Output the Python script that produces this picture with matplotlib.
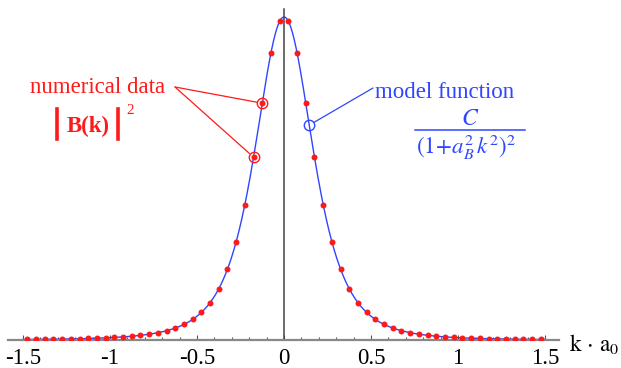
import numpy as np
import matplotlib
matplotlib.use('Agg')
import matplotlib.pyplot as plt
from matplotlib.lines import Line2D

# numerical data |B(k)|^2
k_data = [-1.475, -1.425, -1.375, -1.325, -1.275, -1.225, -1.175, -1.125, -1.075, -1.025,
          -0.975, -0.925, -0.875, -0.825, -0.775, -0.725, -0.675, -0.625, -0.575, -0.525,
          -0.475, -0.425, -0.375, -0.325, -0.275, -0.225, -0.175, -0.125, -0.075, -0.025,
          0.025, 0.075, 0.125, 0.175, 0.225, 0.275, 0.325, 0.375, 0.425, 0.475,
          0.525, 0.575, 0.625, 0.675, 0.725, 0.775, 0.825, 0.875, 0.925, 0.975,
          1.025, 1.075, 1.125, 1.175, 1.225, 1.275, 1.325, 1.375, 1.425, 1.475]
b2_data = [0.0017, 0.0019, 0.0022, 0.0025, 0.0029, 0.0034, 0.0040, 0.0047, 0.0056, 0.0066,
           0.0079, 0.0096, 0.0117, 0.0145, 0.0180, 0.0226, 0.0287, 0.0370, 0.0482, 0.0637,
           0.0852, 0.1156, 0.1585, 0.2193, 0.3042, 0.4194, 0.5660, 0.7331, 0.8892, 0.9867,
           0.9867, 0.8892, 0.7331, 0.5660, 0.4194, 0.3042, 0.2193, 0.1585, 0.1156, 0.0852,
           0.0637, 0.0482, 0.0370, 0.0287, 0.0226, 0.0180, 0.0145, 0.0117, 0.0096, 0.0079,
           0.0066, 0.0056, 0.0047, 0.0040, 0.0034, 0.0029, 0.0025, 0.0022, 0.0019, 0.0017]

# model function C / (1 + a_B^2 k^2)^2
C = 1.0
aB2 = 10.75

tick_pos = [-1.5, -1, -0.5, 0, 0.5, 1, 1.5]
tick_labels = ['-1.5', '-1', '-0.5', '0', '0.5', '1', '1.5']

# points picked out by the labels
k_marked = [-0.175, -0.125]
b2_marked = [0.5660, 0.7331]
k_model_mark = 0.145

red = '#ff1a1a'
blue = '#2f45ff'
fs = 16.5

plt.rcParams['font.family'] = ['Liberation Serif', 'DejaVu Serif']
plt.rcParams['mathtext.fontset'] = 'stix'
plt.rcParams['axes.unicode_minus'] = False

W, H = 621, 368
fig = plt.figure(figsize=(W / 100, H / 100), dpi=100)
ax = fig.add_axes([8 / W, 28 / H, 551 / W, 331 / H])


def px(x, y):
    # image pixel (from top left) -> figure fraction
    return x / W, 1 - y / H


kk = np.linspace(-1.5, 1.5, 801)
ax.plot(kk, C / (1 + aB2 * kk ** 2) ** 2, color=blue, lw=1.0, zorder=2)
ax.plot(k_data, b2_data, 'o', color=red, ms=4.3, mec='none', zorder=3)

ax.set_xlim(-1.586, 1.580)
ax.set_ylim(0, 1.0248)

for s in ['top', 'right']:
    ax.spines[s].set_visible(False)
ax.spines['left'].set_position(('data', 0))
ax.spines['left'].set_color('#444444')
ax.spines['left'].set_linewidth(1.1)
ax.spines['bottom'].set_color('#888888')
ax.spines['bottom'].set_linewidth(1.6)
ax.set_yticks([])
ax.set_xticks(tick_pos)
ax.set_xticklabels(tick_labels)
ax.set_xticks(np.arange(-1.5, 1.51, 0.1), minor=True)
ax.tick_params(axis='x', which='major', direction='in', length=3.5, width=0.8,
               color='#555555', labelsize=fs, pad=6)
ax.tick_params(axis='x', which='minor', direction='in', length=2, width=0.8,
               color='#555555')
ax.patch.set_visible(False)

# axis label
fig.text(*px(569, 351), r'$\mathrm{k}\,\cdot\,\mathrm{a}_0$', fontsize=fs,
         ha='left', va='baseline')

# numerical data label
ax.plot(k_marked, b2_marked, 'o', mfc='none', mec=red, ms=7.5, mew=1.0, zorder=4)
for k, b in zip(k_marked, b2_marked):
    ax.annotate('', xy=(k, b), xycoords='data', xytext=px(175, 87),
                textcoords='figure fraction',
                arrowprops=dict(arrowstyle='-', color=red, lw=0.9,
                                shrinkA=0, shrinkB=4))
fig.text(*px(30, 93), 'numerical data', color=red, fontsize=fs,
         ha='left', va='baseline')
for xb in [57, 118]:
    fig.add_artist(Line2D([xb / W, xb / W], [1 - 109 / H, 1 - 139 / H],
                          color=red, lw=2.6, transform=fig.transFigure))
fig.text(*px(88.5, 132), 'B(k)', color=red, fontsize=fs, fontweight='bold',
         ha='center', va='baseline')
fig.text(*px(126, 114), '2', color=red, fontsize=11, ha='left', va='baseline')

# model function label
bm = C / (1 + aB2 * k_model_mark ** 2) ** 2
ax.plot([k_model_mark], [bm], 'o', mfc='none', mec=blue, ms=7.5, mew=1.0, zorder=4)
ax.annotate('', xy=(k_model_mark, bm), xycoords='data', xytext=px(373, 88),
            textcoords='figure fraction',
            arrowprops=dict(arrowstyle='-', color=blue, lw=0.9,
                            shrinkA=0, shrinkB=4))
fig.text(*px(375, 98), 'model function', color=blue, fontsize=fs,
         ha='left', va='baseline')
fig.text(*px(470, 125), r'$C$', color=blue, fontsize=17, ha='center', va='baseline')
fig.add_artist(Line2D([415 / W, 525 / W], [1 - 130 / H, 1 - 130 / H],
                      color=blue, lw=1.1, transform=fig.transFigure))
fig.text(*px(466, 154), r'$(1\!+\!a_B^2\,k^2)^2$', color=blue, fontsize=fs,
         ha='center', va='baseline')

fig.savefig('out.png', dpi=100)
